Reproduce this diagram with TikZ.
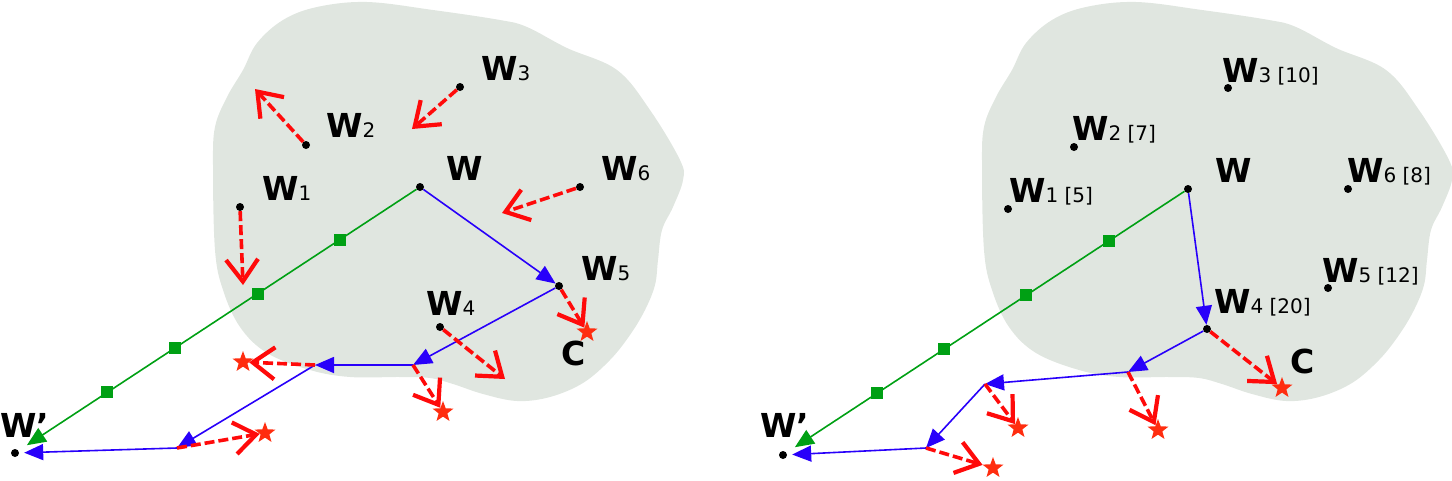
\documentclass[tikz,border=0pt]{standalone}
\usepackage{fontspec}
\setmainfont{DejaVu Sans}
\usetikzlibrary{arrows.meta,shapes.geometric,calc}
\definecolor{blobgray}{RGB}{224,230,224}
\definecolor{myblue}{RGB}{40,0,250}
\definecolor{mygreen}{RGB}{0,160,20}
\definecolor{myred}{RGB}{255,10,10}
\definecolor{starred}{RGB}{255,45,15}
\newcommand\sm[1]{{\fontsize{20}{20}\selectfont\mdseries #1}}
\begin{document}
\begin{tikzpicture}[x=1pt,y=-1pt,
  dot/.style={circle,fill=black,inner sep=0pt,minimum size=8pt},
  lab/.style={anchor=base west,inner sep=0pt,font=\fontsize{33}{33}\selectfont\bfseries},
  sq/.style={rectangle,fill=mygreen,inner sep=0pt,minimum size=12pt},
  starn/.style={star,star points=5,star point ratio=2.4,fill=starred,inner sep=0pt,minimum size=22pt},
  bluearr/.style={myblue,line width=1.6pt,-{Triangle[length=19pt,width=16pt]}},
  greenarr/.style={mygreen,line width=1.6pt,-{Triangle[length=19pt,width=16pt]}},
  redarr/.style={myred,line width=3.6pt,dash pattern=on 10pt off 4pt,-{Straight Barb[length=22pt,width=32pt,line width=4.2pt]}}]
\useasboundingbox (0,0) rectangle (1452,480);
% blobs
\foreach \dx in {0,769}{
\begin{scope}[xshift=\dx pt]
\fill[blobgray] plot[smooth cycle,tension=0.6] coordinates {(317,7) (367,2) (433,10) (500,20) (527,27) (567,48) (617,70) (650,110) (680,160) (683,180) (673,207) (662,230) (658,260) (655,285) (645,310) (630,335) (610,360) (583,383) (550,397) (517,401) (483,394) (453,384) (430,378) (400,377) (350,377) (310,370) (267,353) (240,327) (223,290) (215,250) (213,167) (215,127) (227,97) (243,70) (257,43) (283,20)};
\end{scope}}
% ---------------- left ----------------
\node[dot] (lw) at (420,187) {};
\node[dot] (lw1) at (240,207) {};
\node[dot] (lw2) at (306,145) {};
\node[dot] (lw3) at (460,87) {};
\node[dot] (lw4) at (440,327) {};
\node[dot] (lw5) at (559,286) {};
\node[dot] (lw6) at (580,187) {};
\node[dot] (lwp) at (15,453) {};
\coordinate (lp1) at (413,365);
\coordinate (lp2) at (315,365);
\coordinate (lp3) at (177,448);
\coordinate (le1) at (243,285);
\coordinate (le2) at (255,89);
\coordinate (le3) at (412,129);
\coordinate (le6) at (502,213);
\coordinate (le4) at (505,379);
\node[starn] (lc) at (587,332) {};
\node[starn] (ls1) at (443,412) {};
\node[starn] (ls2) at (243,362) {};
\node[starn] (ls3) at (265,433) {};
\draw[greenarr,shorten >=10pt] (lw) -- (lwp);
\foreach \t/\n in {0.198/1,0.401/2,0.604/3,0.772/4}
  \node[sq] (lsq\n) at ($(lw)!\t!(lwp)$) {};
\draw[bluearr] (lw) -- (lw5);
\draw[bluearr] (lw5) -- (lp1);
\draw[bluearr] (lp1) -- (lp2);
\draw[bluearr] (lp2) -- (lp3);
\draw[bluearr,shorten >=5pt] (lp3) -- (lwp);
\draw[redarr] (lw1) -- (le1);
\draw[redarr] (lw2) -- (le2);
\draw[redarr] (lw3) -- (le3);
\draw[redarr] (lw6) -- (le6);
\draw[redarr] (lw4) -- (le4);
\draw[redarr] (lw5) -- (lc);
\draw[redarr] (lp1) -- (ls1);
\draw[redarr] (lp2) -- (ls2);
\draw[redarr] (lp3) -- (ls3);
\node[lab] (tlw) at (446,180) {W};
\node[lab] (tlw1) at (262,200) {W\sm{1}};
\node[lab] (tlw2) at (326,137) {W\sm{2}};
\node[lab] (tlw3) at (481,80) {W\sm{3}};
\node[lab] (tlw4) at (426,315) {W\sm{4}};
\node[lab] (tlw5) at (581,280) {W\sm{5}};
\node[lab] (tlw6) at (601,180) {W\sm{6}};
\node[lab] (tlc) at (561,365) {C};
\node[lab] (tlwp) at (0,437) {W’};
% ---------------- right ----------------
\node[dot] (rw) at (1188,189) {};
\node[dot] (rw1) at (1008,209) {};
\node[dot] (rw2) at (1074,147) {};
\node[dot] (rw3) at (1228,88) {};
\node[dot] (rw4) at (1207,329) {};
\node[dot] (rw5) at (1328,288) {};
\node[dot] (rw6) at (1348,189) {};
\node[dot] (rwp) at (783,455) {};
\coordinate (rp1) at (1128,372);
\coordinate (rp2) at (985,384);
\coordinate (rp3) at (926,448);
\node[starn] (rc) at (1282,388) {};
\node[starn] (rs1) at (1158,430) {};
\node[starn] (rs2) at (1018,428) {};
\node[starn] (rs3) at (993,468) {};
\draw[greenarr,shorten >=10pt] (rw) -- (rwp);
\foreach \t/\n in {0.196/1,0.399/2,0.603/3,0.767/4}
  \node[sq] (rsq\n) at ($(rw)!\t!(rwp)$) {};
\draw[bluearr] (rw) -- (rw4);
\draw[bluearr] (rw4) -- (rp1);
\draw[bluearr] (rp1) -- (rp2);
\draw[bluearr] (rp2) -- (rp3);
\draw[bluearr,shorten >=5pt] (rp3) -- (rwp);
\draw[redarr] (rw4) -- (rc);
\draw[redarr] (rp1) -- (rs1);
\draw[redarr] (rp2) -- (rs2);
\draw[redarr] (rp3) -- (rs3);
\node[lab] (trw) at (1215,182) {W};
\node[lab] (trw1) at (1009,202) {W\sm{1 [5]}};
\node[lab] (trw2) at (1072,140) {W\sm{2 [7]}};
\node[lab] (trw3) at (1222,82) {W\sm{3 [10]}};
\node[lab] (trw4) at (1214,313) {W\sm{4 [20]}};
\node[lab] (trw5) at (1322,282) {W\sm{5 [12]}};
\node[lab] (trw6) at (1347,182) {W\sm{6 [8]}};
\node[lab] (trc) at (1290,373) {C};
\node[lab] (trwp) at (760,437) {W’};
\end{tikzpicture}
\end{document}
